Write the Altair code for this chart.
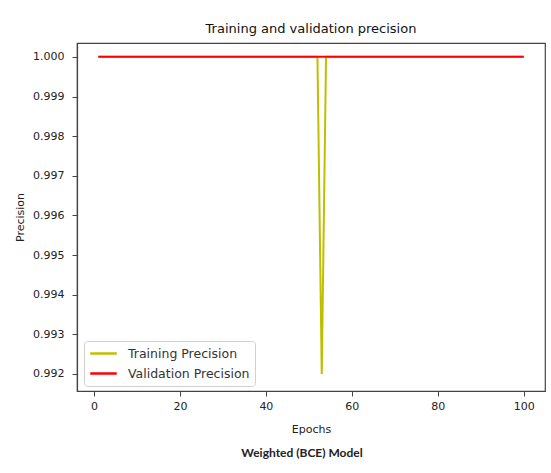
import altair as alt
import pandas as pd

# Per-epoch precision history
epochs = list(range(1, 101))
train_precision = [1.0] * 52 + [0.992] + [1.0] * 47
val_precision = [1.0] * 100

series_names = ["Training Precision", "Validation Precision"]
series_colors = ["#bfbf00", "#ff0000"]

df = pd.DataFrame({
    "epoch": epochs * 2,
    "precision": train_precision + val_precision,
    "series": [series_names[0]] * len(epochs) + [series_names[1]] * len(epochs),
})

y_ticks = [0.992, 0.993, 0.994, 0.995, 0.996, 0.997, 0.998, 0.999, 1.000]
x_ticks = [0, 20, 40, 60, 80, 100]

FONT = "DejaVu Sans"

x_enc = alt.X(
    "epoch:Q",
    scale=alt.Scale(domain=[-3.95, 104.95], nice=False, zero=False),
    axis=alt.Axis(values=x_ticks, title="Epochs", grid=False, tickSize=5,
                  labelPadding=4, titlePadding=12, labelFontSize=11,
                  titleFontSize=11, titleFontWeight="normal"),
)
y_enc = alt.Y(
    "precision:Q",
    scale=alt.Scale(domain=[0.99157, 1.00035], nice=False, zero=False),
    axis=alt.Axis(values=y_ticks, format=".3f", title="Precision", grid=False,
                  tickSize=5, labelPadding=8, titlePadding=7, labelFontSize=11,
                  titleFontSize=11, titleFontWeight="normal"),
)
color_enc = alt.Color(
    "series:N",
    scale=alt.Scale(domain=series_names, range=series_colors),
    legend=alt.Legend(
        title=None, orient="none", legendX=7, legendY=298,
        symbolType="stroke", symbolSize=700, symbolStrokeWidth=2.5,
        labelFontSize=12.5, labelFont=FONT, labelColor="#333",
        fillColor="white", strokeColor="#d0d0d0", cornerRadius=3,
        padding=5, rowPadding=5, clipHeight=15, labelOffset=10,
    ),
)

train_line = alt.Chart(df).transform_filter(
    alt.datum.series == series_names[0]
).mark_line(strokeWidth=2).encode(x=x_enc, y=y_enc, color=color_enc)

val_line = alt.Chart(df).transform_filter(
    alt.datum.series == series_names[1]
).mark_line(strokeWidth=2).encode(x=x_enc, y=y_enc, color=color_enc)

caption = alt.Chart(pd.DataFrame({"label": ["Weighted (BCE) Model"]})).mark_text(
    font="Lato", fontWeight="bold", fontSize=12, color="#222", align="center",
    baseline="middle",
).encode(x=alt.value(225), y=alt.value(410), text="label:N")

chart = alt.layer(train_line, val_line, caption).properties(
    width=468,
    height=348,
    title=alt.Title("Training and validation precision", fontSize=13,
                    font=FONT, fontWeight="normal", color="#111", offset=7),
    autosize=alt.AutoSizeParams(type="none"),
    padding={"left": 77, "top": 43, "right": 6, "bottom": 82},
    background="white",
).configure_view(
    stroke="#444", strokeWidth=1.2
).configure_axis(
    labelFont=FONT, titleFont=FONT, labelColor="#222", titleColor="#222",
    domainColor="#444", tickColor="#444", domainWidth=1.2,
)

chart.save("out.html", embed_options={"renderer": "svg", "actions": False})
